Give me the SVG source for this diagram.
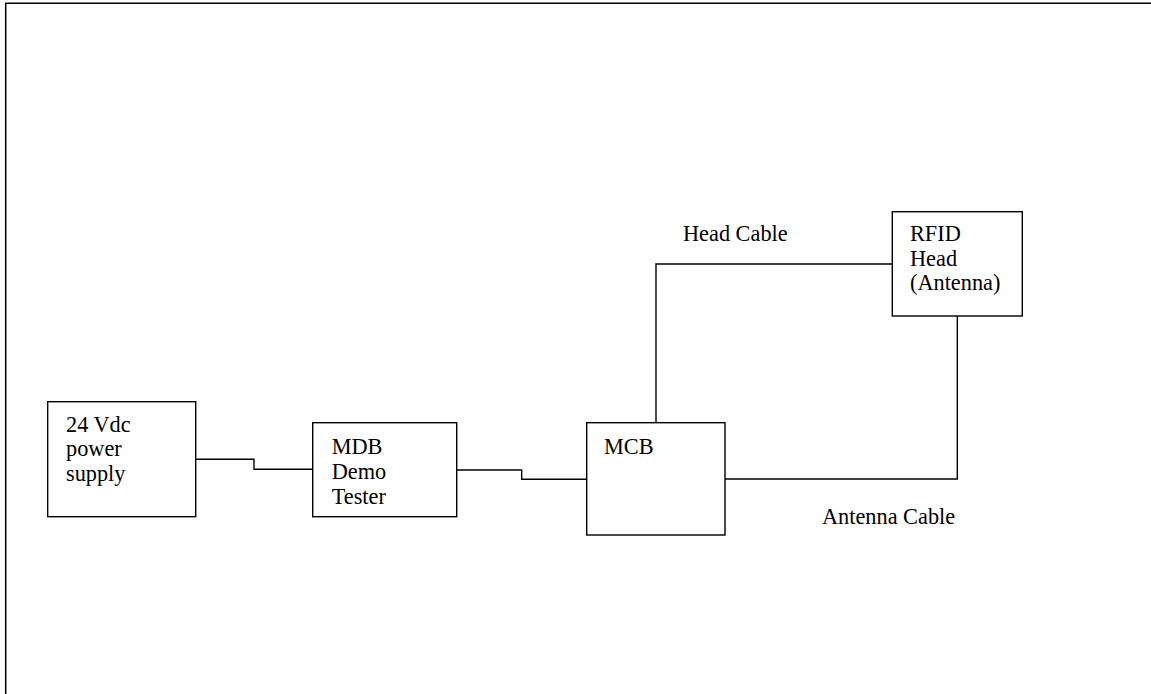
<svg xmlns="http://www.w3.org/2000/svg" width="1151" height="694" viewBox="0 0 1151 694">
<style>
.box{fill:#fff;stroke:#000;stroke-width:1.4}
.wire{fill:none;stroke:#000;stroke-width:1.4}
text{font-family:"Liberation Serif","Times New Roman",serif;font-size:22.3px;fill:#000}
</style>
<rect width="1151" height="694" fill="#fff"/>
<path d="M5.7 694 V3.3 H1151" fill="none" stroke="#000" stroke-width="1.5"/>
<g id="connectors">
<path class="wire" d="M195.7 459.3 H254 V469.3 H312.7"/>
<path class="wire" d="M456.7 470 H521.7 V479.3 H586.7"/>
<path class="wire" d="M656 422.7 V264 H892.3"/>
<path class="wire" d="M957.3 316 V479 H725"/>
<text x="683" y="241.3">Head Cable</text>
<text x="822" y="524">Antenna Cable</text>
</g>
<g id="power">
<rect class="box" x="47.7" y="401.7" width="148" height="115"/>
<text x="66" y="431.7">24 Vdc</text>
<text x="66" y="456.2">power</text>
<text x="66" y="480.7">supply</text>
</g>
<g id="mdb">
<rect class="box" x="312.7" y="422.7" width="144" height="94"/>
<text x="331.7" y="454.3">MDB</text>
<text x="331.7" y="479.3">Demo</text>
<text x="331.7" y="504.3">Tester</text>
</g>
<g id="mcb">
<rect class="box" x="586.7" y="422.7" width="138.3" height="112.3"/>
<text x="604" y="454">MCB</text>
</g>
<g id="rfid">
<rect class="box" x="892.3" y="211.7" width="130" height="104.3"/>
<text x="910" y="240.7">RFID</text>
<text x="910" y="265.7">Head</text>
<text x="910" y="290.4">(Antenna)</text>
</g>
</svg>
